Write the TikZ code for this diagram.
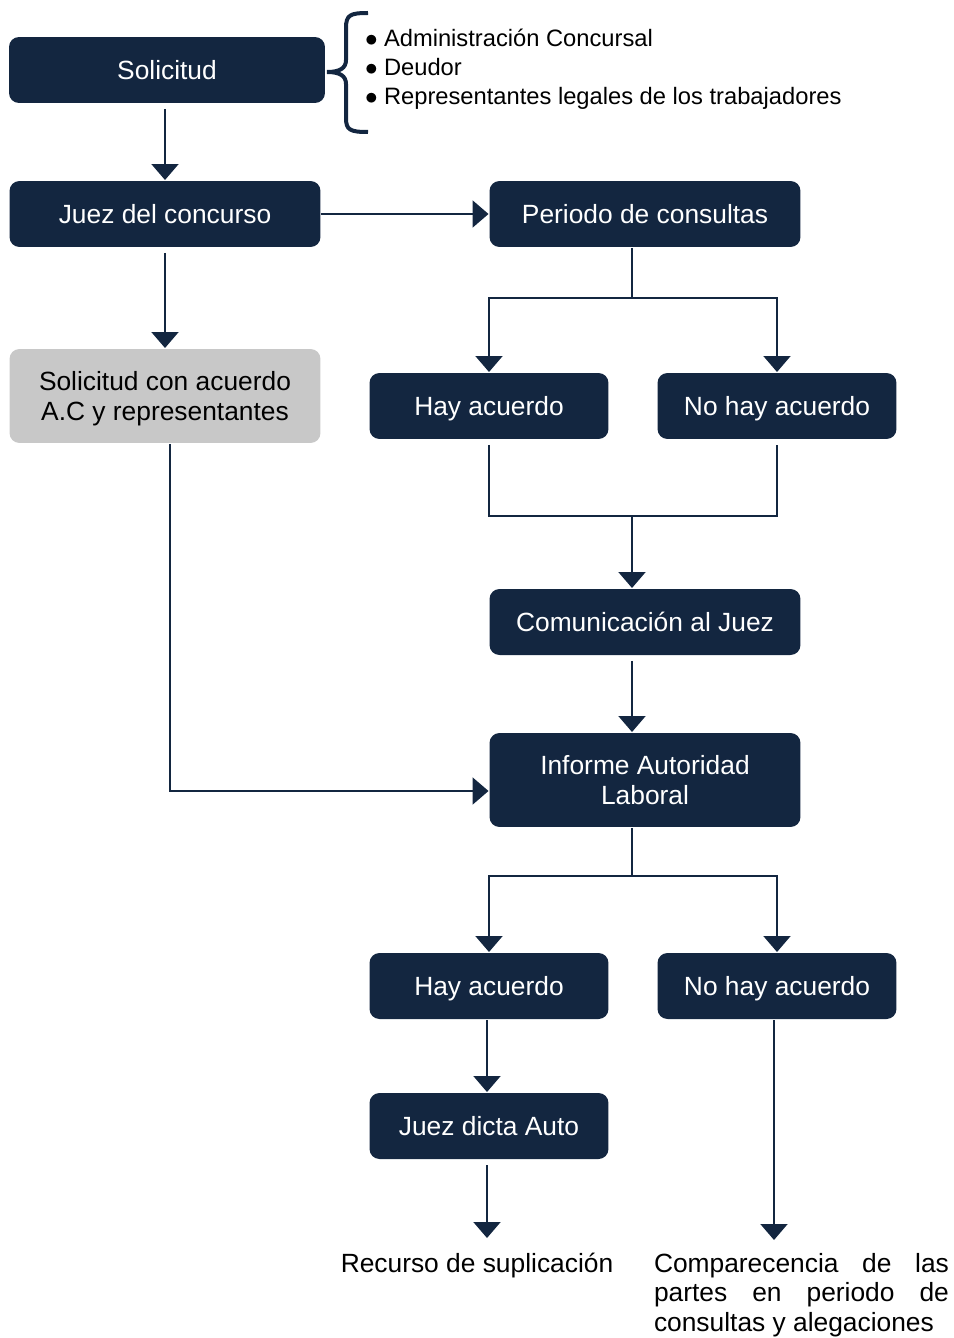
\documentclass[tikz,border=0pt]{standalone}
\usepackage{fontspec}
\setmainfont{Liberation Sans}
\usetikzlibrary{arrows.meta,positioning,calc}
\definecolor{navy}{RGB}{19,38,64}
\definecolor{grisbox}{RGB}{200,200,200}
\newcommand{\vineta}{\makebox[0.38cm][l]{$\bullet$}}

\begin{document}
\begin{tikzpicture}[x=0.02cm, y=-0.02cm, font=\fontsize{15}{17}\selectfont, >={Triangle[width=0.54cm, length=0.32cm]}, line width=0.04cm,
  caja/.style={fill=navy, text=white, rounded corners=0.2cm, minimum width=6.22cm, minimum height=1.32cm, align=center, inner sep=2pt, text depth=0pt},
  cajita/.style={caja, minimum width=4.78cm},
  flecha/.style={->, draw=navy}]
\useasboundingbox (0,0) rectangle (953,1338);
% solicitud y legitimados
\node[caja, minimum width=6.32cm] (solicitud) at (167,70) {Solicitud};
\node[anchor=west, align=left, inner sep=0pt, font=\fontsize{13.5}{16.4}\selectfont] (lista) at (364,69)
  {\vineta Administración Concursal\\\vineta Deudor\\\vineta Representantes legales de los trabajadores};
\draw[navy, line width=0.08cm] (368,13) .. controls (350,13) and (346,15) .. (346,28) -- (346,60)
  .. controls (346,68) and (340,72) .. (327,72) .. controls (340,72) and (346,76) .. (346,84) -- (346,118)
  .. controls (346,130) and (350,132) .. (368,132);
% juez y periodo de consultas
\node[caja] (juez) at (165,214) {Juez del concurso};
\node[caja] (periodo) at (645,214) {Periodo de consultas};
\node[caja, fill=grisbox, text=black, minimum height=1.88cm] (acuerdoac) at (165,396) {Solicitud con acuerdo\\A.C y representantes};
\node[cajita] (hay1) at (489,406) {Hay acuerdo};
\node[cajita] (nohay1) at (777,406) {No hay acuerdo};
\node[caja] (comunicacion) at (645,622) {Comunicación al Juez};
\node[caja, minimum height=1.88cm] (informe) at (645,780) {Informe Autoridad\\Laboral};
% resolucion
\node[cajita] (hay2) at (489,986) {Hay acuerdo};
\node[cajita] (nohay2) at (777,986) {No hay acuerdo};
\node[cajita] (auto) at (489,1126) {Juez dicta Auto};
\node[anchor=north, inner sep=0pt] (recurso) at (477,1252) {Recurso de suplicación};
\node[anchor=north west, inner sep=0pt, text width=5.9cm, align=justify] (comparecencia) at (653,1252)
  {\hyphenpenalty=10000\tolerance=9999 Comparecencia de las partes en periodo de consultas y alegaciones};
% conectores
\coordinate (ramal1) at (632,298);
\coordinate (union1) at (632,516);
\coordinate (ramal2) at (632,876);
\draw[flecha, shorten <=0.1cm] (solicitud.south -| juez.north) -- (juez.north);
\draw[flecha] (juez) -- (periodo);
\draw[flecha, shorten <=0.1cm] (juez) -- (acuerdoac);
\draw[navy] (periodo.south -| ramal1) -- (ramal1);
\draw[flecha] (ramal1) -| (hay1);
\draw[flecha] (ramal1) -| (nohay1);
\draw[navy] ([yshift=-0.1cm]hay1.south) |- (union1) -| ([yshift=-0.1cm]nohay1.south);
\draw[flecha] (union1) -- (comunicacion.north -| union1);
\draw[flecha, shorten <=0.1cm] (comunicacion.south -| union1) -- (informe.north -| union1);
\draw[flecha] ([xshift=0.1cm]acuerdoac.south) |- ([yshift=-0.22cm]informe.west);
\draw[navy] (informe.south -| ramal2) -- (ramal2);
\draw[flecha] (ramal2) -| (hay2);
\draw[flecha] (ramal2) -| (nohay2);
\draw[flecha] ([xshift=-0.04cm]hay2.south) -- ([xshift=-0.04cm]auto.north);
\draw[flecha, shorten <=0.1cm, shorten >=0.28cm] ([xshift=-0.04cm]auto.south) -- ([xshift=-0.04cm]auto.south |- recurso.north);
\draw[flecha, shorten >=0.24cm] ([xshift=-0.06cm]nohay2.south) -- ([xshift=-0.06cm]nohay2.south |- comparecencia.north);
\end{tikzpicture}
\end{document}
